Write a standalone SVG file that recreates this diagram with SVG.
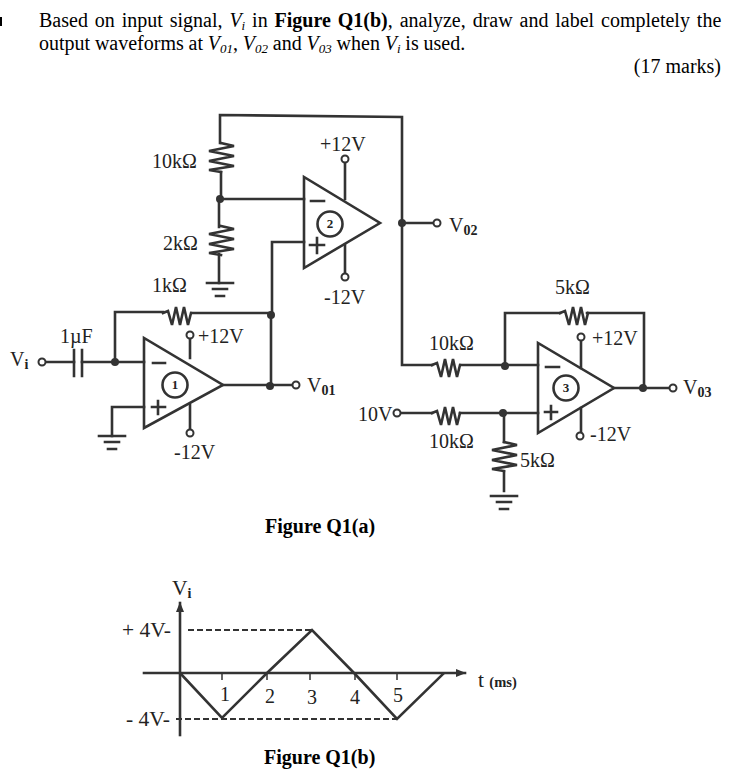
<svg xmlns="http://www.w3.org/2000/svg" width="745" height="779" viewBox="0 0 745 779">
<style>
.w{fill:none;stroke:#333;stroke-width:2.600;stroke-linejoin:miter;stroke-linecap:square}
.o{fill:#fff;stroke:#333;stroke-width:2}
.d{fill:#333}
.l{font-family:"Liberation Serif",serif;font-size:20px;fill:#222}
.g{font-size:21.500px}
.q{font-family:"Liberation Serif",serif;font-size:20px;fill:#000}
.b{font-weight:bold}
.i{font-style:italic}
.n{font-family:"Liberation Serif",serif;font-size:13px;fill:#222;font-weight:bold}
.m{font-family:"Liberation Serif",serif;font-size:14.500px;fill:#222;font-weight:bold}
.s{font-size:13px}
.ls{font-size:14px;font-weight:bold}
.dash{fill:none;stroke:#333;stroke-width:2;stroke-dasharray:6 3}
</style>
<defs>
<marker id="ah" markerWidth="11" markerHeight="8" refX="9" refY="4" orient="auto" markerUnits="userSpaceOnUse"><path d="M0 0L10 4L0 8Z" fill="#333"/></marker>
<g id="gnd"><path class="w" d="M-13 0H13M-7 6H7M-4 13H4"/></g>
<path id="rv" class="w" d="M0 0L13 3L-12 8L13 13L-12 18L13 23L-12 27L0 29"/>
<path id="rh" class="w" d="M0 0L5 -2L9 12L13 -6L17 12L21 -6L25 12L28 0"/>
</defs>
<path d="M0 17H2V26H0Z" fill="#000"/>
<g id="question">
<text class="q" x="39" y="27" word-spacing="1.900">Based on input signal, <tspan class="i">V<tspan class="s" dy="3">i</tspan></tspan><tspan dy="-3"> in </tspan><tspan class="b">Figure Q1(b)</tspan>, analyze, draw and label completely the</text>
<text class="q" x="39" y="50" word-spacing="-0.200">output waveforms at <tspan class="i">V<tspan class="s" dy="3">01</tspan></tspan><tspan dy="-3">, </tspan><tspan class="i">V<tspan class="s" dy="3">02</tspan></tspan><tspan dy="-3"> and </tspan><tspan class="i">V<tspan class="s" dy="3">03</tspan></tspan><tspan dy="-3"> when </tspan><tspan class="i">V<tspan class="s" dy="3">i</tspan></tspan><tspan dy="-3"> is used.</tspan></text>
<text class="q" x="721" y="73" text-anchor="end">(17 marks)</text>
</g>
<g id="connectors">
<path class="w" d="M220 143V115L402 117V365H432M402 223H433"/>
<path class="w" d="M221 172V199H304M219 199V227M219 254V283"/>
<path class="w" d="M272 315V242H304M345 163V199M345 245V273"/>
<path class="w" d="M42 362H74M82 362H144M115 362V312H163M192 313H271M271 315V386M223 385H292"/>
<path class="w" d="M144 407H112V436M190 339V358M190 405V429"/>
<path class="w" d="M461 365H538M505 366V313H560M587 313H644V388M614 388H669"/>
<path class="w" d="M401 413H432M460 413H538M504 413V442M504 472V491M581 341V368M581 408V432"/>
<path class="w" d="M74 350V376M82 350V376"/>
</g>
<use href="#rv" x="221" y="143"/>
<use href="#rv" x="221" y="226"/>
<use href="#rv" x="504" y="442"/>
<use href="#rh" x="163" y="313"/>
<use href="#rh" x="432" y="365"/>
<use href="#rh" x="432" y="413"/>
<use href="#rh" x="560" y="313"/>
<use href="#gnd" x="220" y="283"/>
<use href="#gnd" x="112" y="436"/>
<use href="#gnd" x="504" y="496"/>
<g id="dots">
<circle class="d" cx="220" cy="199" r="4"/><circle class="d" cx="402" cy="223" r="4"/><circle class="d" cx="271" cy="315" r="4"/><circle class="d" cx="115" cy="362" r="4"/><circle class="d" cx="270" cy="386" r="4"/><circle class="d" cx="505" cy="366" r="4"/><circle class="d" cx="503" cy="413" r="4"/><circle class="d" cx="643" cy="388" r="4"/>
</g>
<g id="opamp1">
<path class="w" d="M144 338V428L223 385Z"/>
<path class="w" d="M153 363H165M158 401V414M152 407H165"/>
<circle class="w" cx="175" cy="385" r="12.500"/><text class="n" x="175" y="389" text-anchor="middle">1</text>
</g>
<g id="opamp2">
<path class="w" d="M304 177V268L380 223Z"/>
<path class="w" d="M311 201H324M317 238V253M310 245H324"/>
<circle class="w" cx="330" cy="224" r="12.500"/><text class="n" x="330" y="228" text-anchor="middle">2</text>
</g>
<g id="opamp3">
<path class="w" d="M538 343V433L614 388Z"/>
<path class="w" d="M546 367H559M551 406V419M545 412H557"/>
<circle class="w" cx="566" cy="388" r="12.500"/><text class="n" x="566" y="392" text-anchor="middle">3</text>
</g>
<g id="terminals">
<circle class="o" cx="345" cy="159" r="3.500"/><circle class="o" cx="345" cy="277" r="3.500"/><circle class="o" cx="437" cy="223" r="3.500"/>
<circle class="o" cx="42" cy="362" r="3.500"/><circle class="o" cx="190" cy="335" r="3.500"/><circle class="o" cx="190" cy="433" r="3.500"/><circle class="o" cx="296" cy="385" r="3.500"/>
<circle class="o" cx="397" cy="413" r="3.500"/><circle class="o" cx="581" cy="337" r="3.500"/><circle class="o" cx="580" cy="436" r="3.500"/><circle class="o" cx="673" cy="388" r="3.500"/>
</g>
<g id="labels">
<text class="l" x="152" y="168">10kΩ</text><text class="l" x="163" y="250">2kΩ</text><text class="l" x="152" y="292">1kΩ</text>
<text class="l" x="320" y="151">+12V</text><text class="l" x="324" y="304">-12V</text><text class="l" x="449" y="232">V<tspan class="ls" dy="3">02</tspan></text>
<text class="l" x="60" y="343">1µF</text><text class="l" x="10" y="366">V<tspan class="ls" dy="3">i</tspan></text><text class="l" x="198" y="343">+12V</text><text class="l" x="174" y="459">-12V</text><text class="l" x="307" y="392">V<tspan class="ls" dy="3">01</tspan></text>
<text class="l" x="555" y="294">5kΩ</text><text class="l" x="429" y="350">10kΩ</text><text class="l" x="592" y="345">+12V</text><text class="l" x="683" y="394">V<tspan class="ls" dy="3">03</tspan></text>
<text class="l" x="358" y="421">10V</text><text class="l" x="429" y="448">10kΩ</text><text class="l" x="520" y="467">5kΩ</text><text class="l" x="590" y="441">-12V</text>
<text class="q b" x="265" y="533">Figure Q1(a)</text>
</g>
<g id="graph">
<path class="w" d="M180 735V603" marker-end="url(#ah)"/>
<path class="w" d="M144 673H465" marker-end="url(#ah)"/>
<path class="w" d="M180 673L222 718L267 673L312 630L355 674L397 719L443 674"/>
<path class="dash" d="M188 630H312M176 719H397"/>
<path fill="none" stroke="#333" stroke-width="1.500" d="M222 674V680M267 674V680M310 674V680M355 674V680M397 674V680"/>
<text class="l g" x="172" y="595">V<tspan class="ls" dy="3">i</tspan></text>
<text class="l g" x="122" y="637">+ 4V-</text><text class="l g" x="126" y="726">- 4V-</text>
<text class="l" x="225" y="701" text-anchor="middle">1</text><text class="l" x="270" y="703" text-anchor="middle">2</text><text class="l" x="312" y="704" text-anchor="middle">3</text><text class="l" x="355" y="704" text-anchor="middle">4</text><text class="l" x="398" y="702" text-anchor="middle">5</text>
<text class="l g" x="478" y="687">t <tspan class="m">(ms)</tspan></text>
<text class="q b" x="264" y="764">Figure Q1(b)</text>
</g>
</svg>
